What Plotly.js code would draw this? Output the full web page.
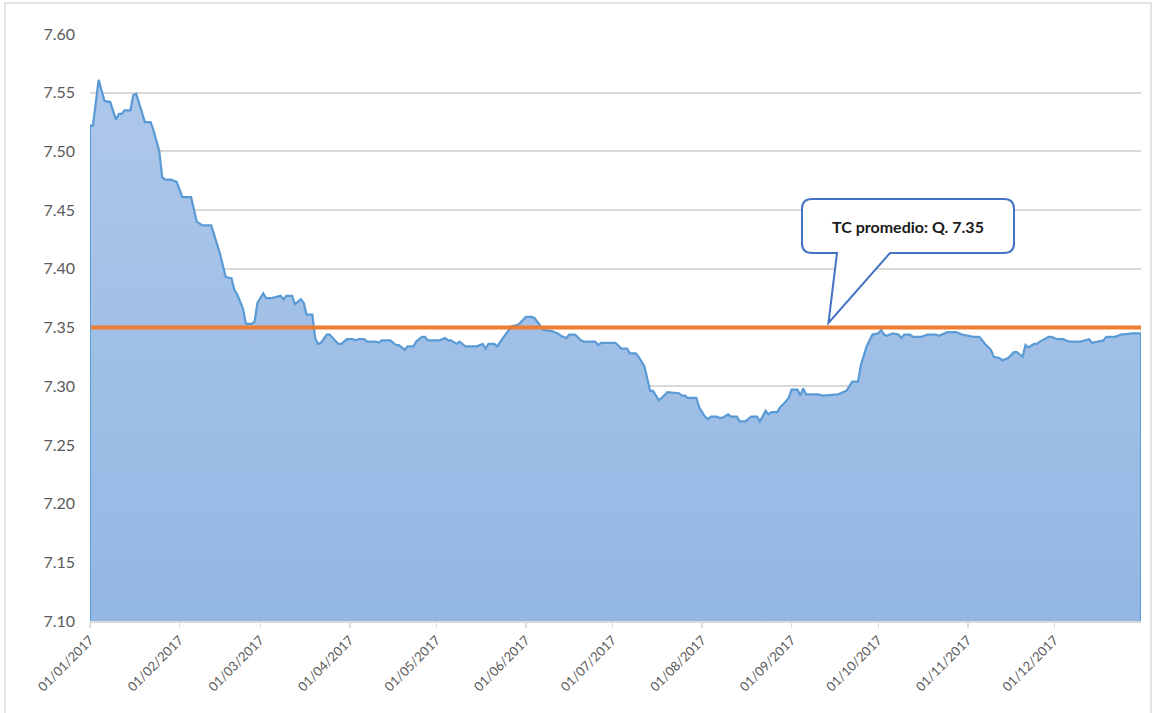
<!DOCTYPE html>
<html>
<head>
<meta charset="utf-8">
<script src="https://cdn.plot.ly/plotly-3.0.1.min.js"></script>
<style>
  html, body { margin: 0; padding: 0; background: #ffffff; }
  #chart { width: 1174px; height: 713px; }
</style>
</head>
<body>
<div id="chart"></div>
<script>
// Exchange rate (GTQ per USD), 2017
const dates = [
  "2017-01-01","2017-01-02","2017-01-04","2017-01-06","2017-01-08","2017-01-10","2017-01-11","2017-01-12","2017-01-13","2017-01-15",
  "2017-01-16","2017-01-17","2017-01-20","2017-01-22","2017-01-23","2017-01-25","2017-01-26","2017-01-27","2017-01-29","2017-01-31",
  "2017-02-02","2017-02-05","2017-02-07","2017-02-09","2017-02-12","2017-02-14","2017-02-15","2017-02-17","2017-02-19","2017-02-20",
  "2017-02-21","2017-02-23","2017-02-24","2017-02-26","2017-02-27","2017-02-28","2017-03-02","2017-03-03","2017-03-05","2017-03-08",
  "2017-03-09","2017-03-10","2017-03-12","2017-03-13","2017-03-15","2017-03-16","2017-03-17","2017-03-19","2017-03-20","2017-03-21",
  "2017-03-22","2017-03-24","2017-03-25","2017-03-28","2017-03-29","2017-03-31","2017-04-02","2017-04-03","2017-04-04","2017-04-06",
  "2017-04-07","2017-04-10","2017-04-11","2017-04-12","2017-04-15","2017-04-17","2017-04-18","2017-04-20","2017-04-21","2017-04-23",
  "2017-04-24","2017-04-26","2017-04-27","2017-04-28","2017-05-02","2017-05-04","2017-05-05","2017-05-06","2017-05-08","2017-05-09",
  "2017-05-11","2017-05-15","2017-05-17","2017-05-18","2017-05-19","2017-05-21","2017-05-22","2017-05-24","2017-05-26","2017-05-27",
  "2017-05-29","2017-05-30","2017-06-01","2017-06-03","2017-06-04","2017-06-06","2017-06-07","2017-06-10","2017-06-12","2017-06-13",
  "2017-06-15","2017-06-16","2017-06-18","2017-06-20","2017-06-21","2017-06-25","2017-06-26","2017-06-27","2017-07-02","2017-07-04",
  "2017-07-06","2017-07-07","2017-07-09","2017-07-10","2017-07-12","2017-07-14","2017-07-15","2017-07-17","2017-07-18","2017-07-20",
  "2017-07-24","2017-07-25","2017-07-26","2017-07-27","2017-07-30","2017-07-31","2017-08-02","2017-08-03","2017-08-04","2017-08-06",
  "2017-08-07","2017-08-08","2017-08-10","2017-08-11","2017-08-13","2017-08-14","2017-08-16","2017-08-18","2017-08-20","2017-08-21",
  "2017-08-22","2017-08-23","2017-08-24","2017-08-25","2017-08-27","2017-08-28","2017-08-30","2017-08-31","2017-09-01","2017-09-03",
  "2017-09-04","2017-09-05","2017-09-06","2017-09-10","2017-09-12","2017-09-17","2017-09-20","2017-09-22","2017-09-24","2017-09-25",
  "2017-09-27","2017-09-29","2017-10-01","2017-10-02","2017-10-03","2017-10-04","2017-10-06","2017-10-08","2017-10-09","2017-10-10",
  "2017-10-12","2017-10-13","2017-10-16","2017-10-18","2017-10-21","2017-10-22","2017-10-25","2017-10-28","2017-10-30","2017-11-01",
  "2017-11-03","2017-11-05","2017-11-07","2017-11-09","2017-11-10","2017-11-12","2017-11-13","2017-11-15","2017-11-17","2017-11-18",
  "2017-11-20","2017-11-21","2017-11-22","2017-11-24","2017-11-25","2017-11-26","2017-11-29","2017-11-30","2017-12-02","2017-12-04",
  "2017-12-06","2017-12-10","2017-12-12","2017-12-13","2017-12-14","2017-12-18","2017-12-19","2017-12-22","2017-12-24","2017-12-28",
  "2017-12-31"
];
const rates = [
  7.522,7.522,7.561,7.543,7.542,7.527,7.532,7.532,7.535,7.535,
  7.548,7.549,7.525,7.525,7.518,7.500,7.478,7.476,7.476,7.474,
  7.461,7.461,7.440,7.437,7.437,7.422,7.413,7.393,7.392,7.382,
  7.378,7.366,7.353,7.353,7.355,7.371,7.379,7.375,7.375,7.377,
  7.374,7.377,7.377,7.370,7.374,7.371,7.361,7.361,7.341,7.336,
  7.337,7.344,7.344,7.336,7.336,7.340,7.340,7.339,7.340,7.340,
  7.338,7.338,7.337,7.339,7.339,7.335,7.335,7.331,7.334,7.334,
  7.338,7.342,7.342,7.339,7.339,7.341,7.339,7.339,7.336,7.338,
  7.334,7.334,7.336,7.332,7.336,7.336,7.334,7.341,7.348,7.351,
  7.352,7.354,7.359,7.359,7.358,7.352,7.348,7.347,7.345,7.343,
  7.341,7.344,7.344,7.339,7.338,7.338,7.335,7.337,7.337,7.332,
  7.332,7.328,7.328,7.325,7.317,7.296,7.296,7.288,7.290,7.295,
  7.294,7.292,7.292,7.290,7.290,7.282,7.274,7.272,7.274,7.274,
  7.273,7.273,7.276,7.274,7.274,7.270,7.270,7.274,7.274,7.270,
  7.274,7.279,7.276,7.278,7.278,7.282,7.287,7.290,7.297,7.297,
  7.292,7.298,7.293,7.293,7.292,7.293,7.296,7.304,7.304,7.318,
  7.334,7.344,7.345,7.348,7.344,7.343,7.345,7.344,7.341,7.344,
  7.344,7.342,7.342,7.344,7.344,7.343,7.346,7.346,7.344,7.343,
  7.342,7.342,7.336,7.331,7.325,7.324,7.322,7.324,7.329,7.329,
  7.325,7.335,7.333,7.336,7.336,7.338,7.342,7.342,7.340,7.340,
  7.338,7.338,7.339,7.340,7.337,7.339,7.342,7.342,7.344,7.345,
  7.345
];
const averageRate = 7.35;
const averageLabel = "TC promedio: Q. 7.35";
const monthTicks = ["2017-01-01","2017-02-01","2017-03-01","2017-04-01","2017-05-01","2017-06-01",
                    "2017-07-01","2017-08-01","2017-09-01","2017-10-01","2017-11-01","2017-12-01"];
const monthLabels = ["01/01/2017","01/02/2017","01/03/2017","01/04/2017","01/05/2017","01/06/2017",
                     "01/07/2017","01/08/2017","01/09/2017","01/10/2017","01/11/2017","01/12/2017"];
const yMin = 7.10, yMax = 7.60;

// pixel helpers for the callout decoration (plot area: x 90..1141, y 34..621)
const W = 1174, H = 713, L = 90, R = 33, T = 34, B = 92;
const pw = W - L - R, ph = H - T - B;
const px = x => +((x - L) / pw).toFixed(5);
const py = y => +((H - B - y) / ph).toFixed(5);

const calloutPath =
  `M${px(812)},${py(199)} L${px(1004)},${py(199)} Q${px(1014)},${py(199)} ${px(1014)},${py(209)} ` +
  `L${px(1014)},${py(243)} Q${px(1014)},${py(253)} ${px(1004)},${py(253)} ` +
  `L${px(890)},${py(253)} L${px(828.5)},${py(323)} L${px(837)},${py(253)} ` +
  `L${px(812)},${py(253)} Q${px(802)},${py(253)} ${px(802)},${py(243)} ` +
  `L${px(802)},${py(209)} Q${px(802)},${py(199)} ${px(812)},${py(199)} Z`;

const traces = [
  {
    x: dates, y: rates, type: 'scatter', mode: 'lines',
    line: { color: '#5b9bd5', width: 2.25 },
    fill: 'tozeroy',
    fillgradient: {
      type: 'vertical', start: yMin, stop: yMax,
      colorscale: [[0, '#93b7e3'], [1, '#b0c9ea']]
    },
    hoverinfo: 'skip', showlegend: false
  },
  {
    x: [dates[0], dates[dates.length - 1]], y: [averageRate, averageRate],
    type: 'scatter', mode: 'lines',
    line: { color: '#ed7d31', width: 4 },
    hoverinfo: 'skip', showlegend: false
  }
];

const layout = {
  width: W, height: H,
  margin: { l: L, r: R, t: T, b: B },
  paper_bgcolor: '#ffffff', plot_bgcolor: '#ffffff',
  font: { family: 'Lato, "Open Sans", sans-serif', color: '#595959' },
  showlegend: false,
  xaxis: {
    type: 'date',
    range: [dates[0], dates[dates.length - 1]],
    tickvals: monthTicks, ticktext: monthLabels,
    tickangle: -45,
    tickfont: { size: 13, color: '#595959' },
    ticks: 'outside', ticklen: 5, tickcolor: '#d9d9d9', tickwidth: 1.5,
    showline: true, linecolor: '#d9d9d9', linewidth: 1.5,
    showgrid: false, zeroline: false, fixedrange: true
  },
  yaxis: {
    range: [yMin, yMax], dtick: 0.05, tick0: yMin,
    tickformat: '.2f',
    tickfont: { size: 16, color: '#595959' },
    ticklabelstandoff: 14,
    showgrid: true, gridcolor: '#d9d9d9', gridwidth: 2,
    showline: false, zeroline: false, ticks: '', fixedrange: true
  },
  shapes: [
    { type: 'line', xref: 'x', yref: 'y', x0: dates[0], x1: dates[0], y0: yMin, y1: rates[0],
      line: { color: '#5b9bd5', width: 2 } },
    { type: 'line', xref: 'x', yref: 'y', x0: dates[dates.length - 1], x1: dates[dates.length - 1],
      y0: yMin, y1: rates[rates.length - 1], line: { color: '#5b9bd5', width: 2 } },
    { type: 'path', xref: 'paper', yref: 'paper', path: calloutPath,
      fillcolor: '#ffffff', line: { color: '#4472c4', width: 2 } },
    { type: 'rect', xref: 'paper', yref: 'paper',
      x0: px(5), x1: px(1151), y0: py(3), y1: py(740),
      line: { color: '#d9d9d9', width: 1.5 }, fillcolor: 'rgba(0,0,0,0)', layer: 'below' }
  ],
  annotations: [
    { xref: 'paper', yref: 'paper', x: px(908), y: py(226),
      xanchor: 'center', yanchor: 'middle', showarrow: false,
      text: '<b>' + averageLabel + '</b>',
      font: { size: 16, color: '#1a1a1a', family: 'Lato, "Open Sans", sans-serif' } }
  ]
};

Plotly.newPlot('chart', traces, layout, { displayModeBar: false, staticPlot: true });
</script>
</body>
</html>
